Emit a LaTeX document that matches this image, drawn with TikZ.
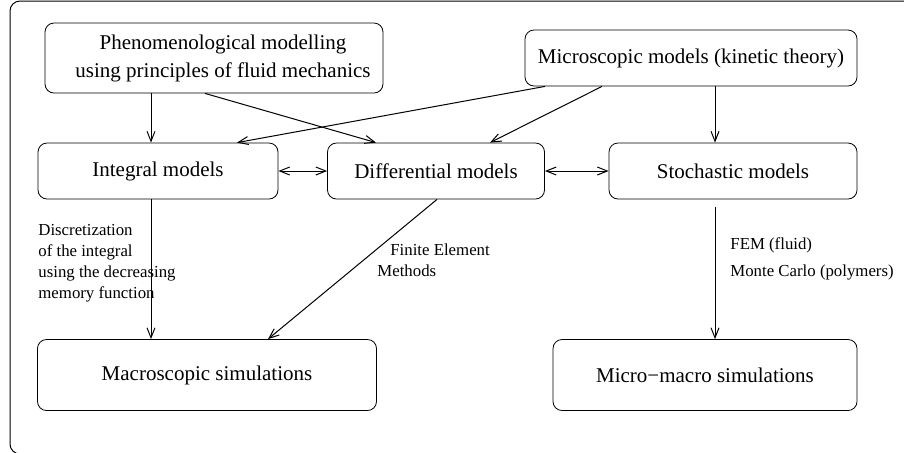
\documentclass[tikz,border=0pt]{standalone}
\usepackage{fontspec}
\setmainfont{Liberation Serif}
\usetikzlibrary{arrows.meta}
\usetikzlibrary{calc,positioning}

\begin{document}
\begin{tikzpicture}[
    x=0.5pt, y=-0.5pt,
    box/.style={draw, rounded corners=4.5pt, inner sep=0pt, align=center, font=\fontsize{10.5}{14}\selectfont},
    note/.style={inner sep=0pt, align=left, font=\fontsize{8.4}{10.5}\selectfont},
    arr/.style={-{Straight Barb[length=5pt,width=4pt]}, line width=0.5pt},
    twoway/.style={{Straight Barb[length=5pt,width=4pt]}-{Straight Barb[length=5pt,width=4pt]}, line width=0.5pt},
 ]
    \clip (0,0) rectangle (904,452);
    \draw[line width=0.5pt, rounded corners=5pt] (10,1) rectangle (930,454);

    \node[box, minimum width=169pt, minimum height=35pt] (Phen) at (214,58) {\hspace{9pt}Phenomenological modelling\\\hspace{9pt}using principles of fluid mechanics};
    \node[box, minimum width=166pt, minimum height=28pt] (Micro) at (691,58) {Microscopic models (kinetic theory)};
    \node[box, minimum width=120pt, minimum height=28pt] (Integ) at (158,171) {Integral models};
    \node[box, minimum width=108.5pt, minimum height=28pt] (Diff) at (436,171) {Differential models};
    \node[box, minimum width=124pt, minimum height=28pt] (Stoch) at (733,171) {Stochastic models};
    \node[box, minimum width=169.5pt, minimum height=35.5pt] (Macro) at (207,375) {Macroscopic simulations};
    \node[box, minimum width=152pt, minimum height=35.5pt] (MicMac) at (705,375) {Micro−macro simulations};

    \node[note, anchor=north west] (DiscrNote) at (38,224) {Discretization\\of the integral\\using the decreasing\\memory function};
    \node[note, anchor=north west] (FemNote) at (377,243) {\hspace{6.5pt}Finite Element\\Methods};
    \node[note, anchor=north west] (McNote) at (730,237) {FEM (fluid)\\[3pt]Monte Carlo (polymers)};

    \draw[arr] ($(Phen.south)+(-63,0)$) -- ($(Integ.north)+(-7,0)$);
    \draw[arr] ($(Phen.south)+(-9,0)$) -- ($(Diff.north)+(-60,0)$);
    \draw[arr] ($(Micro.south)+(-146,0)$) -- ($(Integ.north)+(79,0)$);
    \draw[arr] ($(Micro.south)+(-89,0)$) -- ($(Diff.north)+(54,0)$);
    \draw[arr] ($(Micro.south)+(24,0)$) -- ($(Stoch.north)+(-18,0)$);
    \draw[twoway] (Integ.east) -- (Diff.west);
    \draw[twoway] (Diff.east) -- (Stoch.west);
    \draw[arr] ($(Integ.south)+(-7,0)$) -- ($(Macro.north)+(-56,0)$);
    \draw[arr] ($(Diff.south)+(1,0)$) -- ($(Macro.north)+(61,0)$);
    \draw[arr, shorten <=4pt] ($(Stoch.south)+(-18,0)$) -- ($(MicMac.north)+(10,0)$);

\end{tikzpicture}
\end{document}
